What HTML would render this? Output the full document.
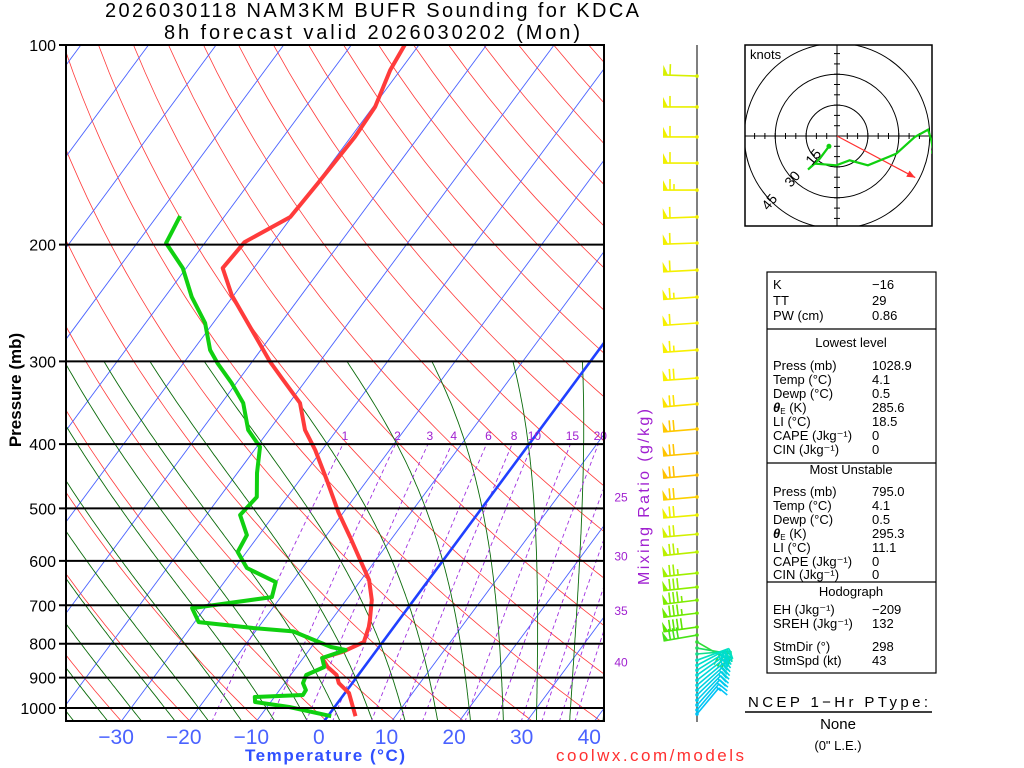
<!DOCTYPE html>
<html><head><meta charset="utf-8"><style>
html,body{margin:0;padding:0;background:#fff;}
svg{display:block;font-family:"Liberation Sans",sans-serif;}
</style></head><body>
<svg id="c" width="1024" height="768" viewBox="0 0 1024 768" xmlns="http://www.w3.org/2000/svg">
<defs><clipPath id="pc"><rect x="66" y="45" width="538" height="676"/></clipPath>
<clipPath id="hc"><rect x="745" y="45" width="187" height="181"/></clipPath></defs>
<text x="372" y="17" text-anchor="middle" font-size="20" textLength="534">2026030118 NAM3KM BUFR Sounding for KDCA</text>
<text x="372" y="39" text-anchor="middle" font-size="20" textLength="416">8h forecast valid 2026030202 (Mon)</text>
<g id="grid" clip-path="url(#pc)"></g>
<g id="traces" clip-path="url(#pc)"></g>
<g id="axes"></g>
<g id="barbs"></g>
<g id="hodo"></g>
<g id="stats"></g>
<text transform="translate(21,390) rotate(-90)" text-anchor="middle" font-size="17" font-weight="bold">Pressure (mb)</text>
<text transform="translate(649,497) rotate(-90)" text-anchor="middle" font-size="16" fill="#a020d0" textLength="176">Mixing Ratio (g/kg)</text>
<text x="325" y="761" text-anchor="middle" font-size="17" font-weight="bold" fill="#3050ff" textLength="160">Temperature (°C)</text>
<text x="650" y="761" text-anchor="middle" font-size="17" fill="#ff3030" textLength="188">coolwx.com/models</text>
</svg>
<script>
// ---- sounding data ----
const tempP=[100,109.1,124,137.6,161.5,181.7,198.3,217,238.4,266.3,300.7,320.1,346.7,380.8,408.2,453,506.2,552.4,598.2,641.2,687.5,736.9,754.9,795.3,823.3,840.7,867.4,891.8,917,949.5,996.6,1028.9];
const tempT=[-62.1,-61.5,-59.7,-59.4,-59.8,-60.2,-64.2,-64.6,-60.3,-54.1,-47.3,-43.4,-38.4,-34.7,-31.0,-26.0,-20.8,-16.3,-12.3,-8.8,-6.2,-4.3,-3.7,-2.8,-4.9,-7.2,-5.4,-3.2,-2.0,0.6,2.7,4.1];
const dewP=[181.1,199,217,240,262.6,288.4,302.3,323.5,346.7,380.8,404,442.2,480.5,511.6,548.5,581.8,614.9,645.7,680.4,706.9,742,757.5,766.5,809,817.6,840.7,867.4,891.8,917,939.6,956,962.6,979.5,996.6,1028.9];
const dewT=[-76.6,-75.7,-70.5,-66.0,-61.2,-57.5,-54.9,-50.7,-46.8,-43.1,-39.5,-37.1,-34.5,-35.0,-31.8,-31.3,-28.2,-22.4,-21.3,-31.9,-29.4,-20.7,-14.4,-7.1,-4.6,-7.2,-5.9,-7.7,-7.3,-6.1,-6.0,-12.9,-12.3,-6.7,0.5];
const isoTicks=[-30,-20,-10,0,10,20,30,40];
const presLevels=[100,200,300,400,500,600,700,800,900,1000];
const mixRatios=[1,2,3,4,6,8,10,15,20,25,30,35,40];
// ---- wind data ----
const barbP=[111.4,124,137.6,150.7,165.5,181.7,198.9,218.5,240,262.6,288.4,317.9,347.9,379.5,412.5,445.3,480.5,511.6,546.7,581.8,625.8,657.1,687.5,719.3,754.9,776.2,795,812,829,847,862,877,892,908,924,940,956,973,990,1007,1021];
const barbDir=[272,270,270,270,270,268,268,267,266,266,266,266,265,265,265,265,265,265,265,264,264,264,263,263,262,260,120,100,85,70,62,58,55,52,50,48,46,44,42,40,40];
const barbSpd=[60,60,60,60,65,60,60,60,65,60,65,70,70,70,70,70,70,70,70,75,75,80,85,85,90,80,30,25,25,25,25,25,22,22,22,20,20,18,16,14,12];
const hodoU=[-3.9,-8.4,-14.1,-10.8,-0.3,6.1,15.0,28.8,37.7,44.2,45.8,46.9];
const hodoV=[-5.0,-11.0,-16.3,-13.4,-14.2,-11.8,-14.2,-8.6,-0.5,3.1,-2.1,-7.8];
const stormDir=298, stormSpd=43;

const NS="http://www.w3.org/2000/svg";
function mk(parent,tag,attrs){const e=document.createElementNS(NS,tag);for(const k in attrs)e.setAttribute(k,attrs[k]);parent.appendChild(e);return e;}
function yP(p){return 45+663*Math.log10(p/100);}
function xT(T,p){return 325+6.76*T+0.74*(720-yP(p));}
function pts(arr){return arr.map(a=>a[0].toFixed(1)+","+a[1].toFixed(1)).join(" ");}
const grid=document.getElementById('grid'),tr=document.getElementById('traces'),ax=document.getElementById('axes');

for(let th=200;th<=560;th+=10){const a=[];for(let p=1050;p>=100;p-=10){const T=th*Math.pow(p/1000,0.2857)-273.15;a.push([xT(T,p),yP(p)]);}
const e=mk(grid,'polyline',{points:pts(a),fill:'none',stroke:'#ff3a3a','stroke-width':0.8});

}
for(let T=-140;T<=50;T+=10){const e=mk(grid,'line',{x1:xT(T,1050),y1:yP(1050),x2:xT(T,100),y2:yP(100),stroke:'#4a62ff','stroke-width':0.9});

}
function es(T){return 6.112*Math.exp(17.67*T/(T+243.5));}
function moist(thw){const up=[],dn=[];let T=thw+273.15;
 for(let p=1000;p>=300;p-=5){up.push([xT(T-273.15,p),yP(p)]);const e=es(T-273.15),rs=0.622*e/(p-e);
  const d=(287.04*T+2.501e6*rs)/(p*(1005.7+2.501e6*2.501e6*rs*0.622/(287.04*T*T)));T-=5*d;}
 T=thw+273.15;for(let p=1000;p<=1050;p+=5){dn.unshift([xT(T-273.15,p),yP(p)]);const e=es(T-273.15),rs=0.622*e/(p-e);
  const d=(287.04*T+2.501e6*rs)/(p*(1005.7+2.501e6*2.501e6*rs*0.622/(287.04*T*T)));T+=5*d;}
 return dn.concat(up);}
for(let w=-40;w<=40;w+=5){const e=mk(grid,'polyline',{points:pts(moist(w)),fill:'none',stroke:'#0a6a0a','stroke-width':0.9});

}
function Tw(w,p){const e=w*p/(622+w),l=Math.log(e/6.112);return 243.5*l/(17.67-l);}
mixRatios.forEach(w=>{const a=[];for(let p=1050;p>=400;p-=10)a.push([xT(Tw(w,p),p),yP(p)]);
const e=mk(grid,'polyline',{points:pts(a),fill:'none',stroke:'#a030e0','stroke-width':0.9,'stroke-dasharray':'4,3'});


let lx,ly;const x4=xT(Tw(w,400),400);
if(x4<=607){lx=x4+2;ly=440;}else{let p=400;while(p<1050&&xT(Tw(w,p),p)>604)p+=1;lx=621;ly=yP(p)+6+(w-20)*1.5;}
const t=mk(ax,'text',{x:lx,y:ly,'text-anchor':'middle','font-size':12,fill:'#a020d0'});t.textContent=w;

});
{const e=mk(tr,'line',{x1:xT(0,1050),y1:yP(1050),x2:xT(0,100),y2:yP(100),stroke:'#2040ff','stroke-width':2.6});

}
presLevels.forEach(p=>{const y=yP(p);const l=mk(ax,'line',{x1:59,y1:y,x2:604,y2:y,stroke:'#000','stroke-width':2});


const t=mk(ax,'text',{x:56,y:y+6,'text-anchor':'end','font-size':16});t.textContent=p;

});
{const r=mk(ax,'rect',{x:66,y:45,width:538,height:676,fill:'none',stroke:'#000','stroke-width':2});

}
isoTicks.forEach(T=>{const t=mk(ax,'text',{x:xT(T,1048)-5,y:744,'text-anchor':'middle','font-size':21,fill:'#4a62ff'});t.textContent=(T<0?'\u2212'+(-T):T);

});
{const e=mk(tr,'polyline',{points:pts(tempP.map((p,i)=>[xT(tempT[i],p),yP(p)])),fill:'none',stroke:'#ff3b3b','stroke-width':4,'stroke-linejoin':'round'});

}
{const e=mk(tr,'polyline',{points:pts(dewP.map((p,i)=>[xT(dewT[i],p),yP(p)])),fill:'none',stroke:'#10d010','stroke-width':4,'stroke-linejoin':'round'});

}
const bg=document.getElementById('barbs');
{const l=mk(bg,'line',{x1:697,y1:45,x2:697,y2:722,stroke:'#555','stroke-width':1.5});

}
function bcol(p){const st=[[100,[200,240,0]],[130,[240,240,0]],[330,[250,240,0]],[380,[255,200,0]],[470,[255,190,0]],[500,[245,240,0]],[560,[200,240,0]],[640,[150,240,0]],[760,[90,230,0]],[800,[40,220,60]],[850,[0,225,200]],[1050,[0,190,255]]];
 for(let i=1;i<st.length;i++){if(p<=st[i][0]){const f=(p-st[i-1][0])/(st[i][0]-st[i-1][0]);const c=st[i-1][1].map((v,k)=>Math.round(v+f*(st[i][1][k]-v)));return 'rgb('+c+')';}}return 'rgb(0,190,255)';}
barbP.forEach((p,i)=>{const x0=697,y0=yP(p),d=barbDir[i]*Math.PI/180;const sx=Math.sin(d),sy=-Math.cos(d);const fx=-sy,fy=sx;const L=34;
 const col=bcol(p);const g=mk(bg,'g',{stroke:col,fill:col,'stroke-width':1.6});
 
 
 const tx=x0+sx*L,ty=y0+sy*L;mk(g,'line',{x1:x0,y1:y0,x2:tx,y2:ty});mk(g,'circle',{cx:x0,cy:y0,r:1.8,stroke:'none'});
 let s=Math.round(barbSpd[i]/5)*5,pos=0;
 while(s>=50){const ax1=tx-sx*pos,ay1=ty-sy*pos,bx=tx-sx*(pos+5),by=ty-sy*(pos+5);mk(g,'polygon',{points:`${ax1},${ay1} ${bx},${by} ${ax1+fx*10},${ay1+fy*10}`,stroke:'none'});pos+=7;s-=50;}
 while(s>=10){const ax1=tx-sx*pos,ay1=ty-sy*pos;mk(g,'line',{x1:ax1,y1:ay1,x2:ax1+fx*11,y2:ay1+fy*11});pos+=4;s-=10;}
 if(s>=5){if(pos===0)pos=4;const ax1=tx-sx*pos,ay1=ty-sy*pos;mk(g,'line',{x1:ax1,y1:ay1,x2:ax1+fx*6,y2:ay1+fy*6});}
});
const hg=document.getElementById('hodo');const cx=837,cy=136,k=2.06;
{const r=mk(hg,'rect',{x:745,y:45,width:187,height:181,fill:'#fff',stroke:'#000','stroke-width':1.5});

}
const hin=mk(hg,'g',{'clip-path':'url(#hc)'});
[15,30,45].forEach(s=>{const c=mk(hin,'circle',{cx:cx,cy:cy,r:s*k,fill:'none',stroke:'#000','stroke-width':1});

});
mk(hin,'line',{x1:745,y1:cy,x2:932,y2:cy,stroke:'#000','stroke-width':1});
mk(hin,'line',{x1:cx,y1:45,x2:cx,y2:226,stroke:'#000','stroke-width':1});
for(let s=-45;s<=45;s+=5){if(!s)continue;mk(hin,'line',{x1:cx+s*k,y1:cy-3,x2:cx+s*k,y2:cy+3,stroke:'#000'});mk(hin,'line',{x1:cx-3,y1:cy+s*k,x2:cx+3,y2:cy+s*k,stroke:'#000'});}
[[15,817,160],[30,796,182],[45,773,205]].forEach(a=>{const t=mk(hg,'text',{transform:`translate(${a[1]},${a[2]}) rotate(-50)`,'font-size':14,'text-anchor':'middle'});t.textContent=a[0];

});
{const t=mk(hg,'text',{x:750,y:59,'font-size':13});t.textContent='knots';

}
{const sd=stormDir*Math.PI/180,u=-stormSpd*Math.sin(sd),v=-stormSpd*Math.cos(sd);const ex=cx+u*k,ey=cy-v*k;
const l=mk(hin,'line',{x1:cx,y1:cy,x2:ex,y2:ey,stroke:'#ff3030','stroke-width':1.2});


const ang=Math.atan2(ey-cy,ex-cx);const a=mk(hin,'polygon',{points:`${ex},${ey} ${ex-9*Math.cos(ang-0.4)},${ey-9*Math.sin(ang-0.4)} ${ex-9*Math.cos(ang+0.4)},${ey-9*Math.sin(ang+0.4)}`,fill:'#ff3030'});

}
{const l=mk(hin,'polyline',{points:pts(hodoU.map((u,i)=>[cx+u*k,cy-hodoV[i]*k])),fill:'none',stroke:'#10d010','stroke-width':2.2});


mk(hin,'circle',{cx:cx+hodoU[0]*k,cy:cy-hodoV[0]*k,r:2.5,fill:'#10d010'});
mk(hin,'circle',{cx:cx+hodoU[hodoU.length-1]*k,cy:cy-hodoV[hodoV.length-1]*k,r:2.5,fill:'#10d010'});}
const sg=document.getElementById('stats');
{const r=mk(sg,'rect',{x:767,y:272,width:169,height:401,fill:'none',stroke:'#000','stroke-width':1.2});

}
[329,463,582].forEach(y=>{const l=mk(sg,'line',{x1:767,y1:y,x2:936,y2:y,stroke:'#000','stroke-width':1.2});

});
const rows=[["K","\u221216",289],["TT","29",305],["PW (cm)","0.86",320],["#Lowest level","",347],["Press (mb)","1028.9",370],["Temp (\u00b0C)","4.1",384],["Dewp (\u00b0C)","0.5",398],["\u03b8E (K)","285.6",412],["LI (\u00b0C)","18.5",426],["CAPE (Jkg\u207b\u00b9)","0",440],["CIN (Jkg\u207b\u00b9)","0",454],["#Most Unstable","",474],["Press (mb)","795.0",496],["Temp (\u00b0C)","4.1",510],["Dewp (\u00b0C)","0.5",524],["\u03b8E (K)","295.3",538],["LI (\u00b0C)","11.1",552],["CAPE (Jkg\u207b\u00b9)","0",566],["CIN (Jkg\u207b\u00b9)","0",579],["#Hodograph","",596],["EH (Jkg\u207b\u00b9)","\u2212209",614],["SREH (Jkg\u207b\u00b9)","132",628],["StmDir (\u00b0)","298",651],["StmSpd (kt)","43",665]];
rows.forEach(r=>{if(r[0][0]==='#'){const t=mk(sg,'text',{x:851,y:r[2],'text-anchor':'middle','font-size':13});t.textContent=r[0].slice(1);

return;}
const t=mk(sg,'text',{x:773,y:r[2],'font-size':13});
if(r[0].startsWith('\u03b8E')){t.innerHTML='<tspan font-weight="bold" font-style="italic">\u03b8</tspan><tspan font-size="8" dy="2">E</tspan><tspan dy="-2"> (K)</tspan>';}else t.textContent=r[0];


const v=mk(sg,'text',{x:872,y:r[2],'font-size':13});v.textContent=r[1];

});
{const t=mk(sg,'text',{x:838,y:707,'text-anchor':'middle','font-size':15,textLength:180});t.textContent='NCEP 1\u2212Hr PType:';


const l=mk(sg,'line',{x1:745,y1:712,x2:932,y2:712,stroke:'#000','stroke-width':1.5});


const n=mk(sg,'text',{x:838,y:729,'text-anchor':'middle','font-size':15});n.textContent='None';


const q=mk(sg,'text',{x:838,y:750,'text-anchor':'middle','font-size':13});q.textContent='(0" L.E.)';

}
</script>
</body></html>
